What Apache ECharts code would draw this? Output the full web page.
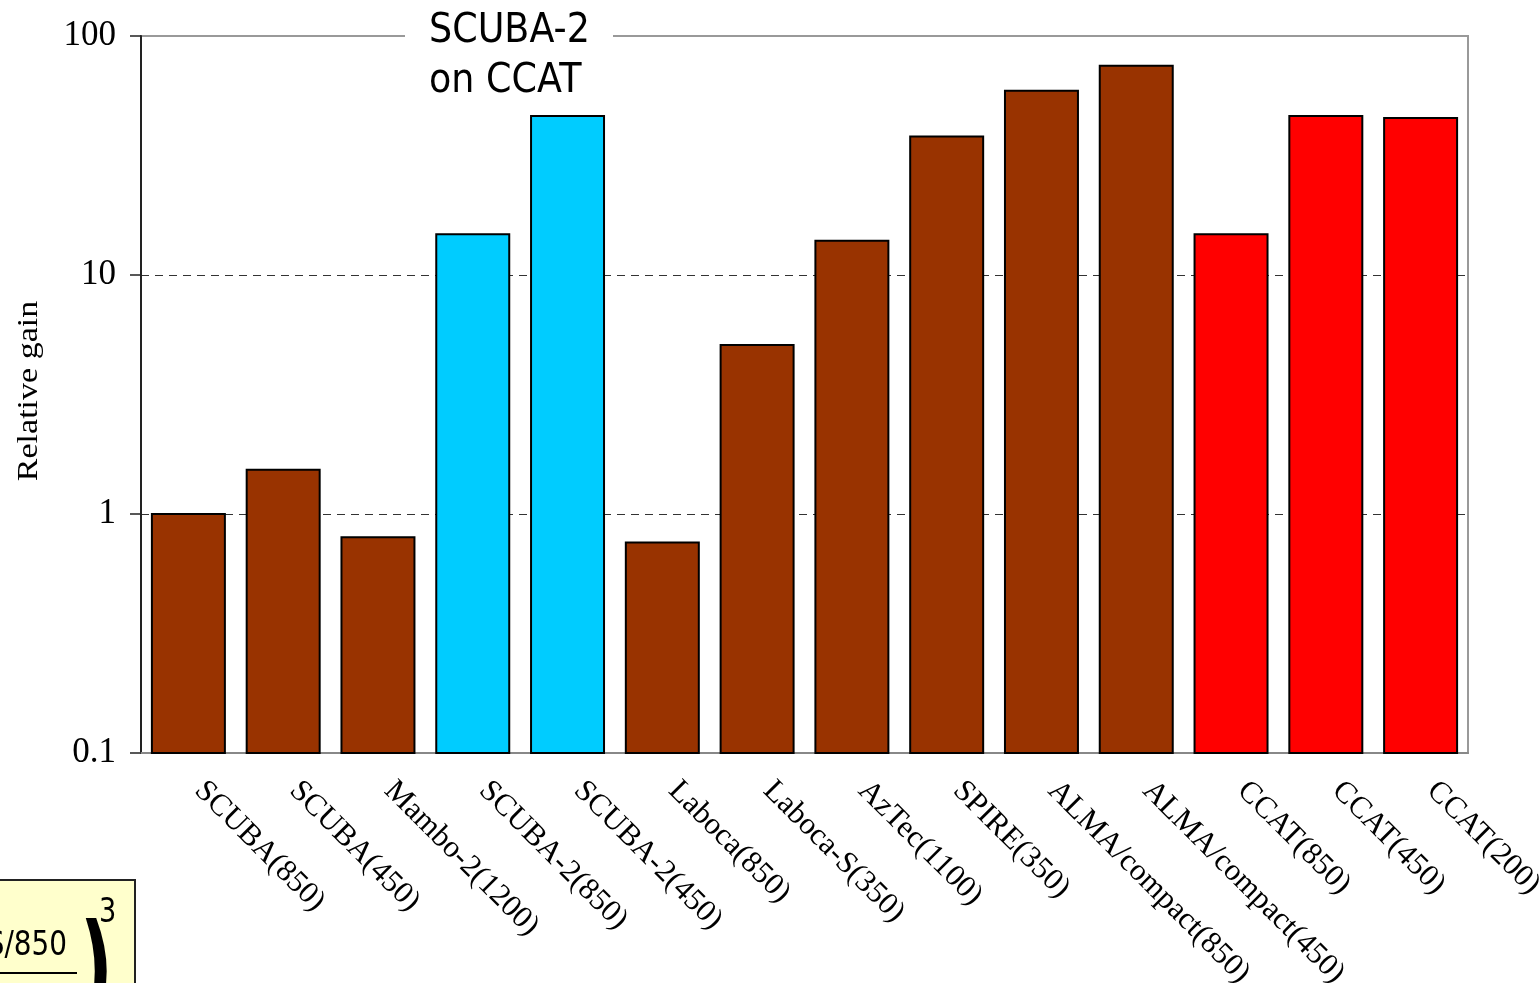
<!DOCTYPE html>
<html>
<head>
<meta charset="utf-8">
<script src="https://cdn.jsdelivr.net/npm/echarts@6/dist/echarts.min.js"></script>
<style>
  html, body { margin: 0; padding: 0; background: #fff; }
  #chart { width: 1540px; height: 983px; }
</style>
</head>
<body>
<div id="chart"></div>
<script>
// Instruments compared, with their observing wavelength (microns)
const categories = [
  'SCUBA(850)', 'SCUBA(450)', 'Mambo-2(1200)', 'SCUBA-2(850)', 'SCUBA-2(450)',
  'Laboca(850)', 'Laboca-S(350)', 'AzTec(1100)', 'SPIRE(350)',
  'ALMA/compact(850)', 'ALMA/compact(450)', 'CCAT(850)', 'CCAT(450)', 'CCAT(200)'
];
// Relative mapping-speed gain, normalised to SCUBA(850)
const gains = [1.0, 1.53, 0.80, 14.8, 46.3, 0.76, 5.1, 13.9, 38, 59, 75, 14.8, 46.3, 45.4];
// Which family each instrument belongs to
const groups = [
  'other', 'other', 'other', 'scuba2', 'scuba2',
  'other', 'other', 'other', 'other',
  'other', 'other', 'ccat', 'ccat', 'ccat'
];
const yTicks = [0.1, 1, 10, 100];

const groupColor = { other: '#993300', scuba2: '#00CCFF', ccat: '#FF0000' };
const serif = '"Liberation Serif", "Times New Roman", serif';
const sans = '"DejaVu Sans", Verdana, sans-serif';
const BAR_FRACTION = 0.77;

const chart = echarts.init(document.getElementById('chart'), null, { renderer: 'canvas' });

// Bars rise from the bottom of the log axis rather than from 1
function renderBar(params, api) {
  const i = api.value(0);
  const top = api.coord([i, api.value(1)]);
  const base = api.coord([i, yTicks[0]]);
  const w = api.size([1, 0])[0] * BAR_FRACTION;
  return {
    type: 'rect',
    shape: { x: top[0] - w / 2, y: top[1], width: w, height: base[1] - top[1] },
    style: { fill: groupColor[groups[params.dataIndex]], stroke: '#000', lineWidth: 2 }
  };
}

chart.setOption({
  animation: false,
  backgroundColor: '#ffffff',
  grid: {
    left: 141, right: 72, top: 36, bottom: 230,
    containLabel: false,
    outerBoundsMode: 'none',
    show: true, borderColor: '#999999', borderWidth: 2, backgroundColor: 'transparent'
  },
  xAxis: {
    type: 'category',
    data: categories,
    axisLine: { show: true, lineStyle: { color: '#888888', width: 2 } },
    axisTick: { show: false },
    axisLabel: {
      rotate: -45,
      margin: 44,
      interval: 0,
      verticalAlign: 'bottom',
      color: '#000',
      fontFamily: serif,
      fontSize: 31
    }
  },
  yAxis: {
    type: 'log',
    logBase: 10,
    min: yTicks[0],
    max: yTicks[yTicks.length - 1],
    axisLine: { show: true, lineStyle: { color: '#222222', width: 2 } },
    axisTick: { show: true, inside: false, length: 11, lineStyle: { color: '#222222', width: 1.5 } },
    axisLabel: {
      margin: 25,
      color: '#000',
      fontFamily: serif,
      fontSize: 35,
      formatter: v => String(+v.toPrecision(3))
    },
    splitLine: {
      show: true,
      showMinLine: false,
      showMaxLine: false,
      lineStyle: { color: '#333333', width: 1.2, type: [8, 6] }
    }
  },
  series: [{
    type: 'custom',
    renderItem: renderBar,
    encode: { x: 0, y: 1 },
    data: gains.map((v, i) => [i, v]),
    z: 5
  }],
  graphic: [
    // y-axis title
    {
      type: 'text',
      x: 29, y: 391,
      rotation: Math.PI / 2,
      scaleY: 0.85,
      style: {
        text: 'Relative gain',
        fontFamily: serif,
        fontSize: 34,
        fill: '#000',
        align: 'center',
        verticalAlign: 'middle'
      },
      z: 100
    },
    // gap in the top frame for the heading
    {
      type: 'rect',
      shape: { x: 405, y: 28, width: 208, height: 16 },
      style: { fill: '#ffffff' },
      z: 100
    },
    {
      type: 'text',
      x: 429, y: 6,
      scaleX: 0.89,
      style: {
        text: 'SCUBA-2\non CCAT',
        fontFamily: sans,
        fontSize: 41,
        lineHeight: 50,
        fill: '#000',
        align: 'left',
        verticalAlign: 'top'
      },
      z: 101
    },
    // formula box, bottom left
    {
      type: 'rect',
      shape: { x: -10, y: 880, width: 145, height: 130 },
      style: { fill: '#FFFFCC', stroke: '#222222', lineWidth: 2 },
      z: 100
    },
    {
      type: 'text',
      x: 67, y: 929,
      scaleX: 0.82,
      style: {
        text: 'S/850',
        fontFamily: sans,
        fontSize: 34,
        fill: '#000',
        align: 'right',
        verticalAlign: 'top'
      },
      z: 101
    },
    {
      type: 'line',
      shape: { x1: -10, y1: 973, x2: 77, y2: 973 },
      style: { stroke: '#000', lineWidth: 2 },
      z: 101
    },
    {
      type: 'text',
      x: 80, y: 918,
      scaleX: 0.6,
      style: {
        text: ')',
        fontFamily: sans,
        fontWeight: 'bold',
        fontSize: 120,
        fill: '#000',
        align: 'left',
        verticalAlign: 'top'
      },
      z: 101
    },
    {
      type: 'text',
      x: 99, y: 896,
      scaleX: 0.8,
      style: {
        text: '3',
        fontFamily: sans,
        fontSize: 34,
        fill: '#000',
        align: 'left',
        verticalAlign: 'top'
      },
      z: 101
    }
  ]
});
</script>
</body>
</html>
